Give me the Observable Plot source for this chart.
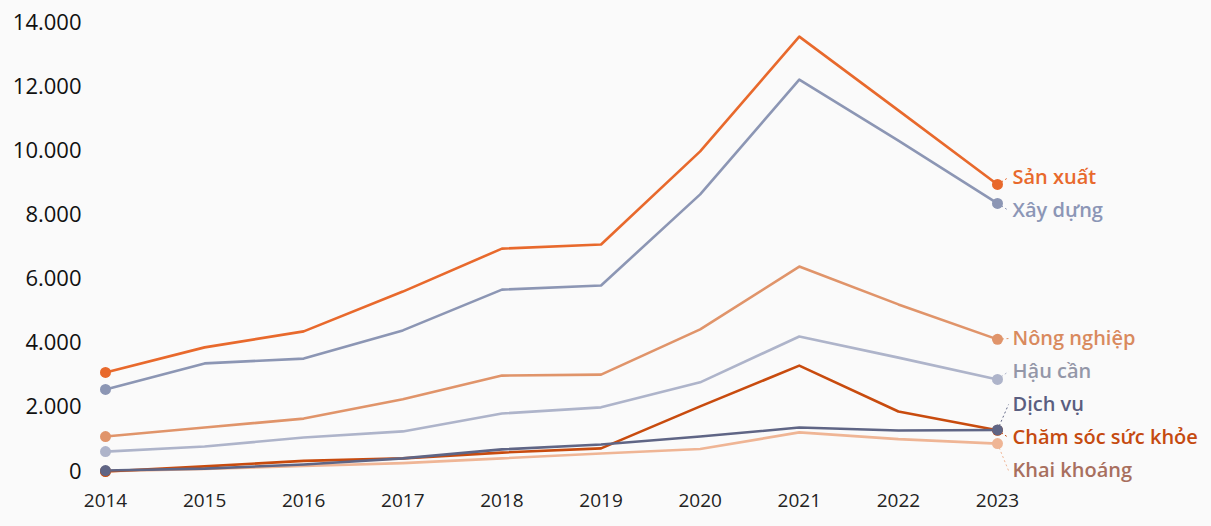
<!DOCTYPE html>
<html>
<head>
<meta charset="utf-8">
<script src="https://cdn.jsdelivr.net/npm/d3@7"></script>
<script src="https://cdn.jsdelivr.net/npm/@observablehq/plot@0.6"></script>
<style>
  html, body { margin: 0; padding: 0; background: #fafafa; }
  #chart svg { background: #fafafa; font-family: "Open Sans", sans-serif; }
</style>
</head>
<body>
<div id="chart"></div>
<script>
const years = [2014, 2015, 2016, 2017, 2018, 2019, 2020, 2021, 2022, 2023];
const yTicks = [0, 2000, 4000, 6000, 8000, 10000, 12000, 14000];

const seriesNames = ["Sản xuất", "Xây dựng", "Nông nghiệp", "Hậu cần", "Khai khoáng", "Chăm sóc sức khỏe", "Dịch vụ"];
const sanXuat   = [3090, 3870, 4370, 5610, 6950, 7080, 9980, 13560, 11260, 8950];
const xayDung   = [2560, 3370, 3520, 4400, 5670, 5800, 8640, 12220, 10320, 8360];
const nongNghiep= [1090, 1370, 1650, 2250, 2990, 3020, 4430, 6390, 5210, 4120];
const hauCan    = [620, 780, 1060, 1250, 1810, 2000, 2780, 4210, 3550, 2870];
const khaiKhoang= [10, 80, 170, 260, 410, 560, 700, 1220, 1010, 870];
const chamSoc   = [0, 160, 330, 410, 590, 720, 2030, 3300, 1870, 1285];
const dichVu    = [30, 90, 220, 410, 690, 840, 1090, 1370, 1280, 1295];
const seriesValues = [sanXuat, xayDung, nongNghiep, hauCan, khaiKhoang, chamSoc, dichVu];

const lineColors  = ["#E8692C", "#8C96B4", "#E0946A", "#AEB4CA", "#EFB595", "#C84B0E", "#5F6585"];
const labelColors = ["#E8692C", "#8C96B6", "#D98A5E", "#9497A8", "#A86F5E", "#C54A10", "#5A5E80"];

const width = 1211, height = 526;
const margin = {top: 22, right: 214, bottom: 55, left: 105};

const data = [];
seriesNames.forEach((name, i) => {
  years.forEach((yr, j) => data.push({series: name, year: yr, value: seriesValues[i][j]}));
});

// scales mirroring Plot's, used for label collision avoidance
const yScale = d3.scaleLinear([0, 14000], [height - margin.bottom, margin.top]);
const xScale = d3.scaleLinear([years[0], years[years.length - 1]], [margin.left, width - margin.right]);

const ends = seriesNames.map((name, i) => ({
  series: name, i, year: years[years.length - 1], value: seriesValues[i][years.length - 1]
}));
ends.forEach(d => d.py = yScale(d.value));
const sorted = [...ends].sort((a, b) => a.py - b.py);
const gap = 33;
let clusters = sorted.map(d => ({items: [d], sum: d.py}));
let changed = true;
while (changed) {
  changed = false;
  for (let k = 1; k < clusters.length; k++) {
    const a = clusters[k - 1], b = clusters[k];
    const aTop = a.sum / a.items.length - (a.items.length - 1) * gap / 2;
    const bTop = b.sum / b.items.length - (b.items.length - 1) * gap / 2;
    if (bTop < aTop + a.items.length * gap) {
      clusters.splice(k - 1, 2, {items: a.items.concat(b.items), sum: a.sum + b.sum});
      changed = true;
      break;
    }
  }
}
clusters.forEach(c => {
  const top = c.sum / c.items.length - (c.items.length - 1) * gap / 2;
  c.items.forEach((d, k) => { d.labelY = yScale.invert(top + k * gap); });
});
const labelX = xScale.invert(xScale(years[years.length - 1]) + 11);
ends.forEach(d => d.labelX = labelX);

const starts = seriesNames.map((name, i) => ({series: name, year: years[0], value: seriesValues[i][0]}));

const fmt = d3.formatLocale({decimal: ",", thousands: ".", grouping: [3], currency: ["", ""]}).format(",");

const chart = Plot.plot({
  width, height,
  marginTop: margin.top, marginRight: margin.right, marginBottom: margin.bottom, marginLeft: margin.left,
  style: {background: "#fafafa", fontFamily: "Open Sans, sans-serif", overflow: "visible"},
  x: {domain: [years[0], years[years.length - 1]]},
  y: {domain: [0, 14000]},
  color: {domain: seriesNames, range: lineColors},
  marks: [
    Plot.axisY({ticks: yTicks, tickFormat: fmt, tickSize: 0, tickPadding: 24, fontSize: 22, fontWeight: 500, color: "#111", label: null}),
    Plot.axisX({ticks: years, tickFormat: d => String(d), tickSize: 0, tickPadding: 22, fontSize: 19, color: "#222", label: null}),
    Plot.link(ends, {x1: "year", y1: "value", x2: "labelX", y2: "labelY", stroke: "series", strokeWidth: 1, strokeDasharray: "2,2.5"}),
    Plot.line(data, {x: "year", y: "value", z: "series", stroke: "series", strokeWidth: 2.6}),
    Plot.dot(starts, {x: "year", y: "value", fill: "series", r: 5.5}),
    Plot.dot(ends, {x: "year", y: "value", fill: "series", r: 5.5}),
    Plot.text(ends, {x: "labelX", y: "labelY", text: "series", fill: d => labelColors[d.i], textAnchor: "start", dx: 4, fontSize: 20, fontWeight: 600})
  ]
});
document.getElementById("chart").appendChild(chart);
</script>
</body>
</html>
